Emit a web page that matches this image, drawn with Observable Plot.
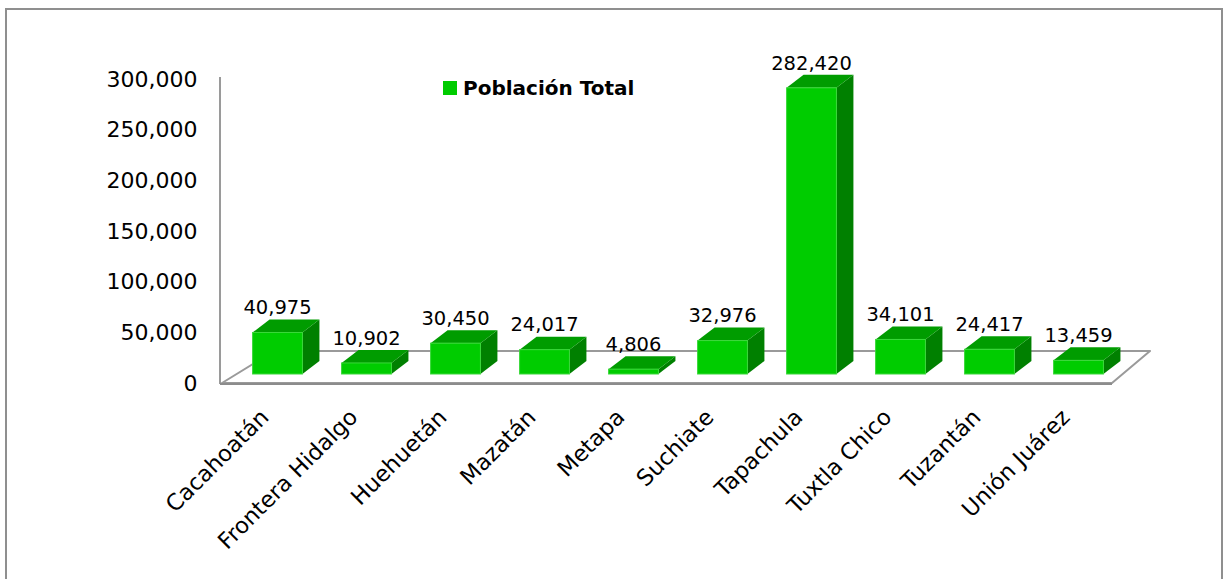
<!DOCTYPE html>
<html><head><meta charset="utf-8">
<script src="https://cdn.jsdelivr.net/npm/d3@7"></script>
<script src="https://cdn.jsdelivr.net/npm/@observablehq/plot@0.6"></script>
<style>
html,body{margin:0;padding:0;background:#fff;overflow:hidden;width:1229px;height:579px;}
#frame{position:absolute;left:5px;top:8px;width:1218px;height:600px;border:2px solid #8f8f8f;box-sizing:border-box;}
#chart{position:absolute;left:0;top:0;}
#legend{position:absolute;left:443px;top:76px;font-family:"DejaVu Sans",sans-serif;font-weight:bold;font-size:20px;display:flex;align-items:center;color:#000;}
#legend .sw{display:inline-block;width:14px;height:14px;background:#00cc00;margin-right:6px;}
</style></head><body>
<div id="frame"></div>
<div id="chart"></div>
<div id="legend"><span class="sw"></span><span id="legend-text"></span></div>
<script>
// ---- data ----
const municipios = ["Cacahoatán","Frontera Hidalgo","Huehuetán","Mazatán","Metapa","Suchiate","Tapachula","Tuxtla Chico","Tuzantán","Unión Juárez"];
const poblacion = [40975, 10902, 30450, 24017, 4806, 32976, 282420, 34101, 24417, 13459];
const yTicks = [0, 50000, 100000, 150000, 200000, 250000, 300000];
const serie = "Población Total";

document.getElementById("legend-text").textContent = serie;
const data = municipios.map((m, i) => ({municipio: m, poblacion: poblacion[i]}));
const fmt = d3.format(",");

const PAD_IN = 0.44, PAD_OUT = 0.22;
// 3D look parameters (pixels)
const OFF = {dx: 11, dy: -9};     // bar position inside the floor depth
const DEPTH = {dx: 17, dy: -13};  // bar depth
const COLORS = {front: "#00cc00", top: "#009c00", side: "#008000", edge: "#3ad83a"};

function bandGeometry(x) {
  const [r0, r1] = x.range ? x.range() : [222, 1112];
  const step = (r1 - r0) / (municipios.length - PAD_IN + 2 * PAD_OUT);
  const bw = step * (1 - PAD_IN);
  const start0 = r0 + step * PAD_OUT;
  const v0 = x(municipios[0]);
  const isStart = Math.abs(v0 - start0) < 1;
  const center = m => x(m) + (isStart ? bw / 2 : 0);
  return {r0, r1, step, bw, center};
}

function floorAndAxis(index, scales) {
  const x = scales.x, y = scales.y;
  const {r0: x0, r1: x1} = bandGeometry(x);
  const y0 = y(0), yTop = y(yTicks[yTicks.length - 1]);
  const g = d3.create("svg:g").attr("fill", "none").attr("stroke", "#9a9a9a");
  g.append("path")
    .attr("d", `M${x0},${y0}L${x1},${y0}L${x1 + 38},${y0 - 32}L${x0 + 52},${y0 - 32}Z`)
    .attr("stroke-width", 2).attr("stroke-linejoin", "round");
  g.append("line").attr("x1", x0 - 2).attr("x2", x0 - 2).attr("y1", yTop - 2).attr("y2", y0 + 1)
    .attr("stroke-width", 2);
  g.append("line").attr("x1", x0 - 2).attr("x2", x1).attr("y1", y0 + 1).attr("y2", y0 + 1)
    .attr("stroke", "#8c8c8c").attr("stroke-width", 2);
  return g.node();
}

function bars3d(index, scales) {
  const x = scales.x, y = scales.y;
  const {bw, center} = bandGeometry(x);
  const g = d3.create("svg:g");
  for (const d of data) {
    const xl = center(d.municipio) - bw / 2 + OFF.dx, xr = xl + bw;
    const yt = y(d.poblacion) + OFF.dy, yb = y(0) + OFF.dy;
    g.append("path")
      .attr("d", `M${xr},${yt}L${xr + DEPTH.dx},${yt + DEPTH.dy}L${xr + DEPTH.dx},${yb + DEPTH.dy}L${xr},${yb}Z`)
      .attr("fill", COLORS.side);
    g.append("path")
      .attr("d", `M${xl},${yt}L${xl + DEPTH.dx},${yt + DEPTH.dy}L${xr + DEPTH.dx},${yt + DEPTH.dy}L${xr},${yt}Z`)
      .attr("fill", COLORS.top);
    g.append("rect")
      .attr("x", xl).attr("y", yt).attr("width", bw).attr("height", yb - yt)
      .attr("fill", COLORS.front).attr("stroke", COLORS.edge).attr("stroke-width", 1);
  }
  return g.node();
}

const chart = Plot.plot({
  width: 1229,
  height: 579,
  marginTop: 79,
  marginBottom: 196,
  marginLeft: 222,
  marginRight: 117,
  style: {fontFamily: "DejaVu Sans, sans-serif", fontSize: "22px", background: "transparent", color: "#000"},
  x: {domain: municipios, axis: null, paddingInner: PAD_IN, paddingOuter: PAD_OUT, round: false},
  y: {domain: [0, 300000], ticks: yTicks, tickFormat: fmt, tickSize: 0, tickPadding: 25, label: null},
  marks: [
    floorAndAxis,
    bars3d,
    Plot.text(data, {x: "municipio", y: "poblacion", text: d => fmt(d.poblacion), dx: 10.5, dy: -34, fontSize: 19.5, fill: "#000"}),
    Plot.text(data, {x: "municipio", y: () => 0, text: "municipio", rotate: -45, textAnchor: "end", dx: -2, dy: 30, fontSize: 22.5, fill: "#000"})
  ]
});
document.getElementById("chart").appendChild(chart);
</script>
</body></html>
